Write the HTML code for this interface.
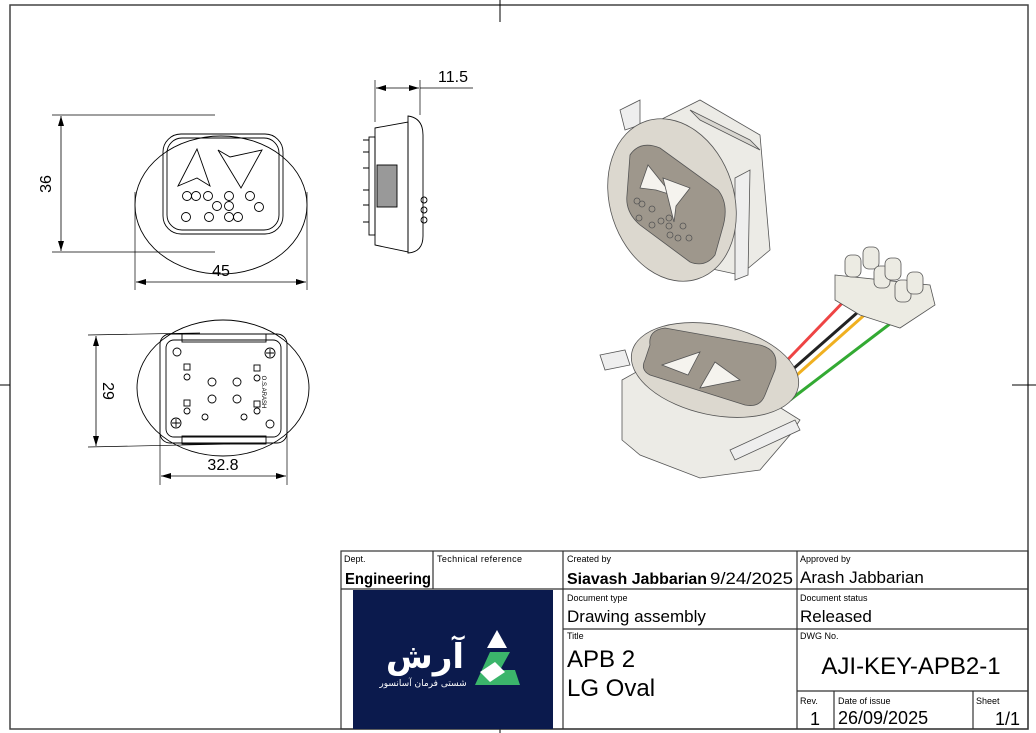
<!DOCTYPE html>
<html><head><meta charset="utf-8"><style>
body{margin:0;background:#fff;}
svg{display:block;font-family:"Liberation Sans",sans-serif;}
</style></head><body>
<svg width="1036" height="733" viewBox="0 0 1036 733" xmlns="http://www.w3.org/2000/svg">
<defs>
<marker id="a" viewBox="0 0 10 6" refX="10" refY="3" markerWidth="10" markerHeight="6" orient="auto-start-reverse" markerUnits="userSpaceOnUse"><path d="M0,0L10,3L0,6z" fill="#000"/></marker>
</defs>
<rect x="10" y="5" width="1018" height="724" fill="none" stroke="#444" stroke-width="1.5"/>
<line x1="500" y1="0" x2="500" y2="22" stroke="#000"/>
<line x1="0" y1="385" x2="10" y2="385" stroke="#000"/>
<line x1="1012" y1="385" x2="1036" y2="385" stroke="#000"/>
<line x1="500" y1="720" x2="500" y2="733" stroke="#000"/>

<!-- front view -->
<g fill="none" stroke="#000" stroke-width="0.9">
<ellipse cx="221" cy="205" rx="86" ry="69"/>
<rect x="163" y="134" width="120" height="100" rx="18"/>
<rect x="167" y="138" width="112" height="92" rx="15"/>
<path d="M178,186 L197,149 L210,186 L197,178 Z"/>
<path d="M218,150 L230,157 L262,150 L241,188 Z"/>
<g>
<circle cx="187" cy="196" r="4.5"/><circle cx="196" cy="196" r="4.5"/><circle cx="208" cy="196" r="4.5"/><circle cx="229" cy="196" r="4.5"/><circle cx="250" cy="196" r="4.5"/>
<circle cx="217" cy="206" r="4.5"/><circle cx="229" cy="206" r="4.5"/><circle cx="259" cy="207" r="4.5"/>
<circle cx="186" cy="217" r="4.5"/><circle cx="209" cy="217" r="4.5"/><circle cx="229" cy="217" r="4.5"/><circle cx="238" cy="217" r="4.5"/>
</g>
<line x1="52" y1="115" x2="215" y2="115" stroke-width="0.7"/>
<line x1="52" y1="252" x2="215" y2="252" stroke-width="0.7"/>
<line x1="61" y1="116" x2="61" y2="251" marker-start="url(#a)" marker-end="url(#a)" stroke-width="0.8"/>
<line x1="135" y1="192" x2="135" y2="290" stroke-width="0.7"/>
<line x1="307" y1="192" x2="307" y2="290" stroke-width="0.7"/>
<line x1="136" y1="282" x2="306" y2="282" marker-start="url(#a)" marker-end="url(#a)" stroke-width="0.8"/>
</g>
<text x="47" y="184" font-size="16" text-anchor="middle" transform="rotate(-90 47 184)" dominant-baseline="middle">36</text>
<text x="221" y="276" font-size="16" text-anchor="middle">45</text>

<!-- side view -->
<g fill="none" stroke="#000" stroke-width="0.9">
<path d="M408,116 Q423,118 423,135 L423,236 Q423,252 408,253 Z"/>
<path d="M375,128 L408,122 L408,252 L375,245 Z"/>
<rect x="369" y="137" width="6" height="98"/>
<rect x="377" y="165" width="20" height="42" fill="#999"/>
<path d="M363,140h6M363,152h6M363,168h6M363,190h6M363,205h6M363,222h6"/>
<circle cx="424" cy="200" r="3"/><circle cx="424" cy="210" r="3"/><circle cx="424" cy="220" r="3"/>
<line x1="375" y1="80" x2="375" y2="122" stroke-width="0.7"/>
<line x1="420" y1="80" x2="420" y2="115" stroke-width="0.7"/>
<line x1="376" y1="88" x2="419" y2="88" marker-start="url(#a)" marker-end="url(#a)" stroke-width="0.8"/>
<line x1="420" y1="88" x2="473" y2="88" stroke-width="0.8"/>
</g>
<text x="453" y="82" font-size="16" text-anchor="middle">11.5</text>

<!-- bottom view -->
<g fill="none" stroke="#000" stroke-width="0.9">
<ellipse cx="223" cy="388" rx="86" ry="68"/>
<rect x="160" y="334" width="127" height="109" rx="10"/>
<rect x="166" y="340" width="115" height="97" rx="8"/>
<rect x="182" y="334" width="84" height="8"/>
<rect x="182" y="436" width="84" height="8"/>
<circle cx="177" cy="352" r="4"/><circle cx="270" cy="353" r="5"/><circle cx="176" cy="423" r="5"/><circle cx="270" cy="424" r="4"/>
<path d="M270,349v8M266,353h8M176,419v8M172,423h8"/>
<circle cx="187" cy="377" r="3"/><circle cx="257" cy="378" r="3"/><circle cx="187" cy="411" r="3"/><circle cx="257" cy="411" r="3"/>
<circle cx="212" cy="382" r="4"/><circle cx="237" cy="382" r="4"/><circle cx="212" cy="399" r="4"/><circle cx="237" cy="399" r="4"/>
<circle cx="205" cy="417" r="3"/><circle cx="244" cy="417" r="3"/>
<rect x="184" y="364" width="6" height="6"/><rect x="254" y="365" width="6" height="6"/><rect x="184" y="400" width="6" height="6"/><rect x="254" y="401" width="6" height="6"/>
<line x1="88" y1="335" x2="200" y2="333" stroke-width="0.7"/>
<line x1="88" y1="447" x2="230" y2="444" stroke-width="0.7"/>
<line x1="96" y1="336" x2="96" y2="446" marker-start="url(#a)" marker-end="url(#a)" stroke-width="0.8"/>
<line x1="160" y1="400" x2="160" y2="485" stroke-width="0.7"/>
<line x1="287" y1="400" x2="287" y2="485" stroke-width="0.7"/>
<line x1="161" y1="476" x2="286" y2="476" marker-start="url(#a)" marker-end="url(#a)" stroke-width="0.8"/>
</g>
<text x="107" y="391" font-size="16" text-anchor="middle" transform="rotate(90 107 391)" dominant-baseline="middle">29</text>
<text x="223" y="470" font-size="16" text-anchor="middle">32.8</text>
<text x="262" y="392" font-size="6" transform="rotate(90 262 392)" text-anchor="middle">O.S.ARASH</text>

<!-- 3D top -->
<g stroke="#555" stroke-width="0.8">
<path d="M640,130 L700,100 L760,135 L770,250 L740,275 L680,262 Z" fill="#ecebe6"/>
<path d="M690,110 L750,140 L760,150 L700,120 Z" fill="#d8d6d0"/>
<path d="M620,110 L640,100 L640,125 L625,130 Z" fill="#eee"/>
<path d="M735,178 L750,170 L748,275 L735,280 Z" fill="#eee"/>
<ellipse cx="672" cy="200" rx="62" ry="83" transform="rotate(-18 672 200)" fill="#dcd8cf"/>
<path d="M630,155 Q640,140 660,148 L718,190 Q730,205 722,230 L715,255 Q705,268 690,262 L640,225 Q625,212 627,195 Z" fill="#9e978c"/>
<path d="M640,188 L648,165 L672,195 L656,190 Z" fill="#f5f3ee"/>
<path d="M663,178 L690,188 L676,206 L674,222 Z" fill="#f5f3ee"/>
</g>
<g fill="none" stroke="#555" stroke-width="0.8">
<circle cx="637" cy="201" r="3"/><circle cx="642" cy="204" r="3"/><circle cx="652" cy="209" r="3"/><circle cx="639" cy="218" r="3"/><circle cx="652" cy="225" r="3"/><circle cx="661" cy="221" r="3"/><circle cx="669" cy="218" r="3"/><circle cx="669" cy="226" r="3"/><circle cx="683" cy="226" r="3"/><circle cx="670" cy="235" r="3"/><circle cx="678" cy="238" r="3"/><circle cx="689" cy="238" r="3"/>
</g>

<!-- wires -->
<g stroke-width="3" fill="none">
<path d="M770,378 L850,295" stroke="#e44"/>
<path d="M776,384 L866,305" stroke="#222"/>
<path d="M780,390 L870,310" stroke="#f0b020"/>
<path d="M790,400 L895,320" stroke="#3a3"/>
</g>
<!-- terminal block -->
<g stroke="#555" stroke-width="0.8" fill="#ecebe3">
<path d="M835,275 L930,285 L935,305 L900,328 L860,315 L835,300 Z"/>
<rect x="845" y="255" width="16" height="22" rx="6"/><rect x="863" y="247" width="16" height="22" rx="6"/><rect x="874" y="266" width="16" height="22" rx="6"/><rect x="885" y="258" width="16" height="22" rx="6"/><rect x="895" y="280" width="16" height="22" rx="6"/><rect x="907" y="272" width="16" height="22" rx="6"/>
</g>

<!-- 3D bottom -->
<g stroke="#555" stroke-width="0.8">
<path d="M622,380 L640,370 L760,395 L800,420 L790,435 L760,470 L700,478 L640,455 L622,440 Z" fill="#ecebe6"/>
<path d="M600,355 L625,350 L630,365 L605,370 Z" fill="#eee"/>
<path d="M730,450 L795,420 L800,430 L735,460 Z" fill="#eee"/>
<ellipse cx="715" cy="370" rx="85" ry="45" transform="rotate(12 715 370)" fill="#dcd8cf"/>
<path d="M650,345 Q648,330 665,328 L760,345 Q780,350 775,370 L765,395 Q760,408 745,405 L650,375 Q640,370 645,360 Z" fill="#9e978c"/>
<path d="M662,365 L700,352 L688,375 Z" fill="#f5f3ee"/>
<path d="M700,388 L715,362 L740,380 Z" fill="#f5f3ee"/>
</g>

<!-- title block -->
<g stroke="#333" stroke-width="1.2" fill="none">
<rect x="341" y="551" width="687" height="178"/>
<line x1="341" y1="589" x2="1028" y2="589"/>
<line x1="563" y1="629" x2="1028" y2="629"/>
<line x1="797" y1="691" x2="1028" y2="691"/>
<line x1="433" y1="551" x2="433" y2="589"/>
<line x1="563" y1="551" x2="563" y2="729"/>
<line x1="797" y1="551" x2="797" y2="729"/>
<line x1="834" y1="691" x2="834" y2="729"/>
<line x1="973" y1="691" x2="973" y2="729"/>
</g>
<rect x="353" y="590" width="200" height="139" fill="#0b1a4d"/>
<path d="M497,630 L507,648 L487,648 Z" fill="#fff"/>
<path d="M490,652 L510,652 L500,670 L515,670 L520,685 L475,685 Z" fill="#3bb56b"/>
<path d="M480,672 L495,662 L505,672 L490,682 Z" fill="#fff"/>
<text x="425" y="668" font-size="34" fill="#fff" font-weight="bold" text-anchor="middle" font-family="'DejaVu Sans',sans-serif">آرش</text>
<text x="423" y="686" font-size="9" fill="#fff" text-anchor="middle" font-family="'DejaVu Sans',sans-serif">شستی فرمان آسانسور</text>
<g font-size="9" fill="#000">
<text x="344" y="562">Dept.</text>
<text x="437" y="562" textLength="85">Technical reference</text>
<text x="567" y="562">Created by</text>
<text x="800" y="562">Approved by</text>
<text x="567" y="601">Document type</text>
<text x="800" y="601">Document status</text>
<text x="567" y="639">Title</text>
<text x="800" y="639">DWG No.</text>
<text x="800" y="704">Rev.</text>
<text x="838" y="704">Date of issue</text>
<text x="976" y="704">Sheet</text>
</g>
<g font-size="17" fill="#000">
<text x="345" y="584" font-weight="bold" font-size="16" textLength="86" lengthAdjust="spacingAndGlyphs">Engineering</text>
<text x="567" y="584" font-weight="bold" font-size="16" textLength="140" lengthAdjust="spacingAndGlyphs">Siavash Jabbarian</text>
<text x="710" y="584" font-size="17" textLength="83" lengthAdjust="spacingAndGlyphs">9/24/2025</text>
<text x="800" y="583">Arash Jabbarian</text>
<text x="567" y="622">Drawing assembly</text>
<text x="800" y="622">Released</text>
<text x="567" y="667" font-size="24">APB 2</text>
<text x="567" y="696" font-size="24">LG Oval</text>
<text x="911" y="674" font-size="24" text-anchor="middle">AJI-KEY-APB2-1</text>
<text x="815" y="725" text-anchor="middle" font-size="18">1</text>
<text x="838" y="724" font-size="18">26/09/2025</text>
<text x="1020" y="725" text-anchor="end" font-size="18">1/1</text>
</g>
</svg>
</body></html>
